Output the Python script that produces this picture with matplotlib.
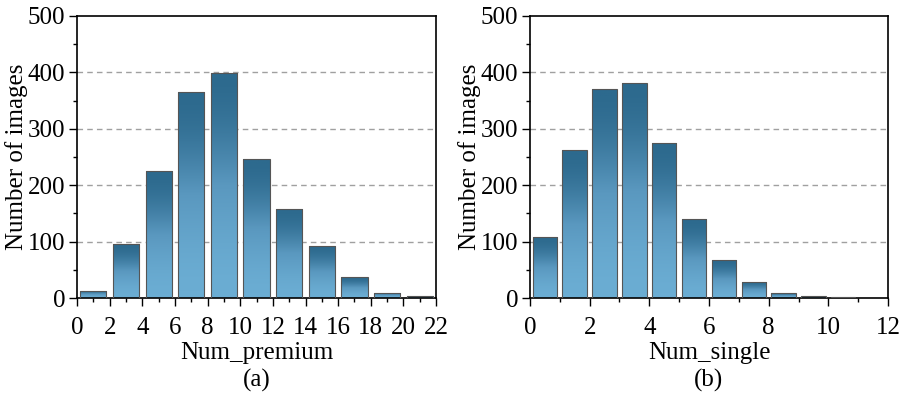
import matplotlib
matplotlib.use("Agg")
import matplotlib.pyplot as plt
import numpy as np
from matplotlib.colors import LinearSegmentedColormap
from matplotlib.ticker import MultipleLocator

plt.rcParams['font.family'] = ['Liberation Serif', 'DejaVu Serif']
plt.rcParams['font.size'] = 18

# 直方圖數據 (a)
premium_edges = [0, 2, 4, 6, 8, 10, 12, 14, 16, 18, 20, 22]
premium_counts = [13, 95, 225, 366, 399, 246, 158, 93, 37, 9, 3]

# 直方圖數據 (b)
single_edges = [0, 1, 2, 3, 4, 5, 6, 7, 8, 9, 10, 11]
single_counts = [109, 262, 371, 381, 274, 140, 67, 29, 8, 3, 2]

cmap = LinearSegmentedColormap.from_list("blu", ["#6badd3", "#5a98bf", "#2d6a8e"])


def gradient_hist(ax, edges, counts, rwidth):
    edges = np.array(edges, dtype=float)
    w = np.diff(edges)
    centers = edges[:-1] + w / 2
    bars = ax.bar(centers, counts, width=w * rwidth, facecolor="none",
                  edgecolor="#555555", linewidth=0.8, zorder=3)
    t = np.linspace(0, 1, 256).reshape(-1, 1)
    grad = t * t * (3 - 2 * t)
    for b in bars:
        x0, y0 = b.get_x(), b.get_y()
        im = ax.imshow(grad, extent=[x0, x0 + b.get_width(), y0, y0 + b.get_height()],
                       origin="lower", aspect="auto", cmap=cmap, vmin=0, vmax=1, zorder=2)
        im.set_clip_path(b)


fig = plt.figure(figsize=(9.03, 3.93), dpi=100)
ax1 = fig.add_axes([0.0853, 0.2417, 0.3976, 0.7176])
ax2 = fig.add_axes([0.5869, 0.2417, 0.3965, 0.7176])

gradient_hist(ax1, premium_edges, premium_counts, 0.8)
gradient_hist(ax2, single_edges, single_counts, 0.82)

for ax, xmax, xstep, lab in [(ax1, 22, 2, "Num_premium\n(a)"), (ax2, 12, 2, "Num_single\n(b)")]:
    ax.set_xlim(0, xmax)
    ax.set_ylim(0, 500)
    ax.xaxis.set_major_locator(MultipleLocator(xstep))
    ax.xaxis.set_minor_locator(MultipleLocator(xstep / 2))
    ax.yaxis.set_major_locator(MultipleLocator(100))
    ax.yaxis.set_minor_locator(MultipleLocator(50))
    ax.tick_params(which="major", direction="out", length=5.5, width=1)
    ax.tick_params(which="minor", direction="out", length=3, width=1)
    ax.tick_params(axis="x", which="major", pad=8)
    ax.tick_params(axis="y", which="major", pad=3)
    for y in [100, 200, 300, 400]:
        ax.axhline(y, color="#a0a0a0", linestyle=(0, (4, 3)), linewidth=1, zorder=1)
    for s in ax.spines.values():
        s.set_linewidth(1.2)
    ax.set_ylabel("Number of images", labelpad=0)
    ax.set_xlabel(lab, linespacing=1.3, labelpad=2)

fig.savefig("out.png", dpi=100)
